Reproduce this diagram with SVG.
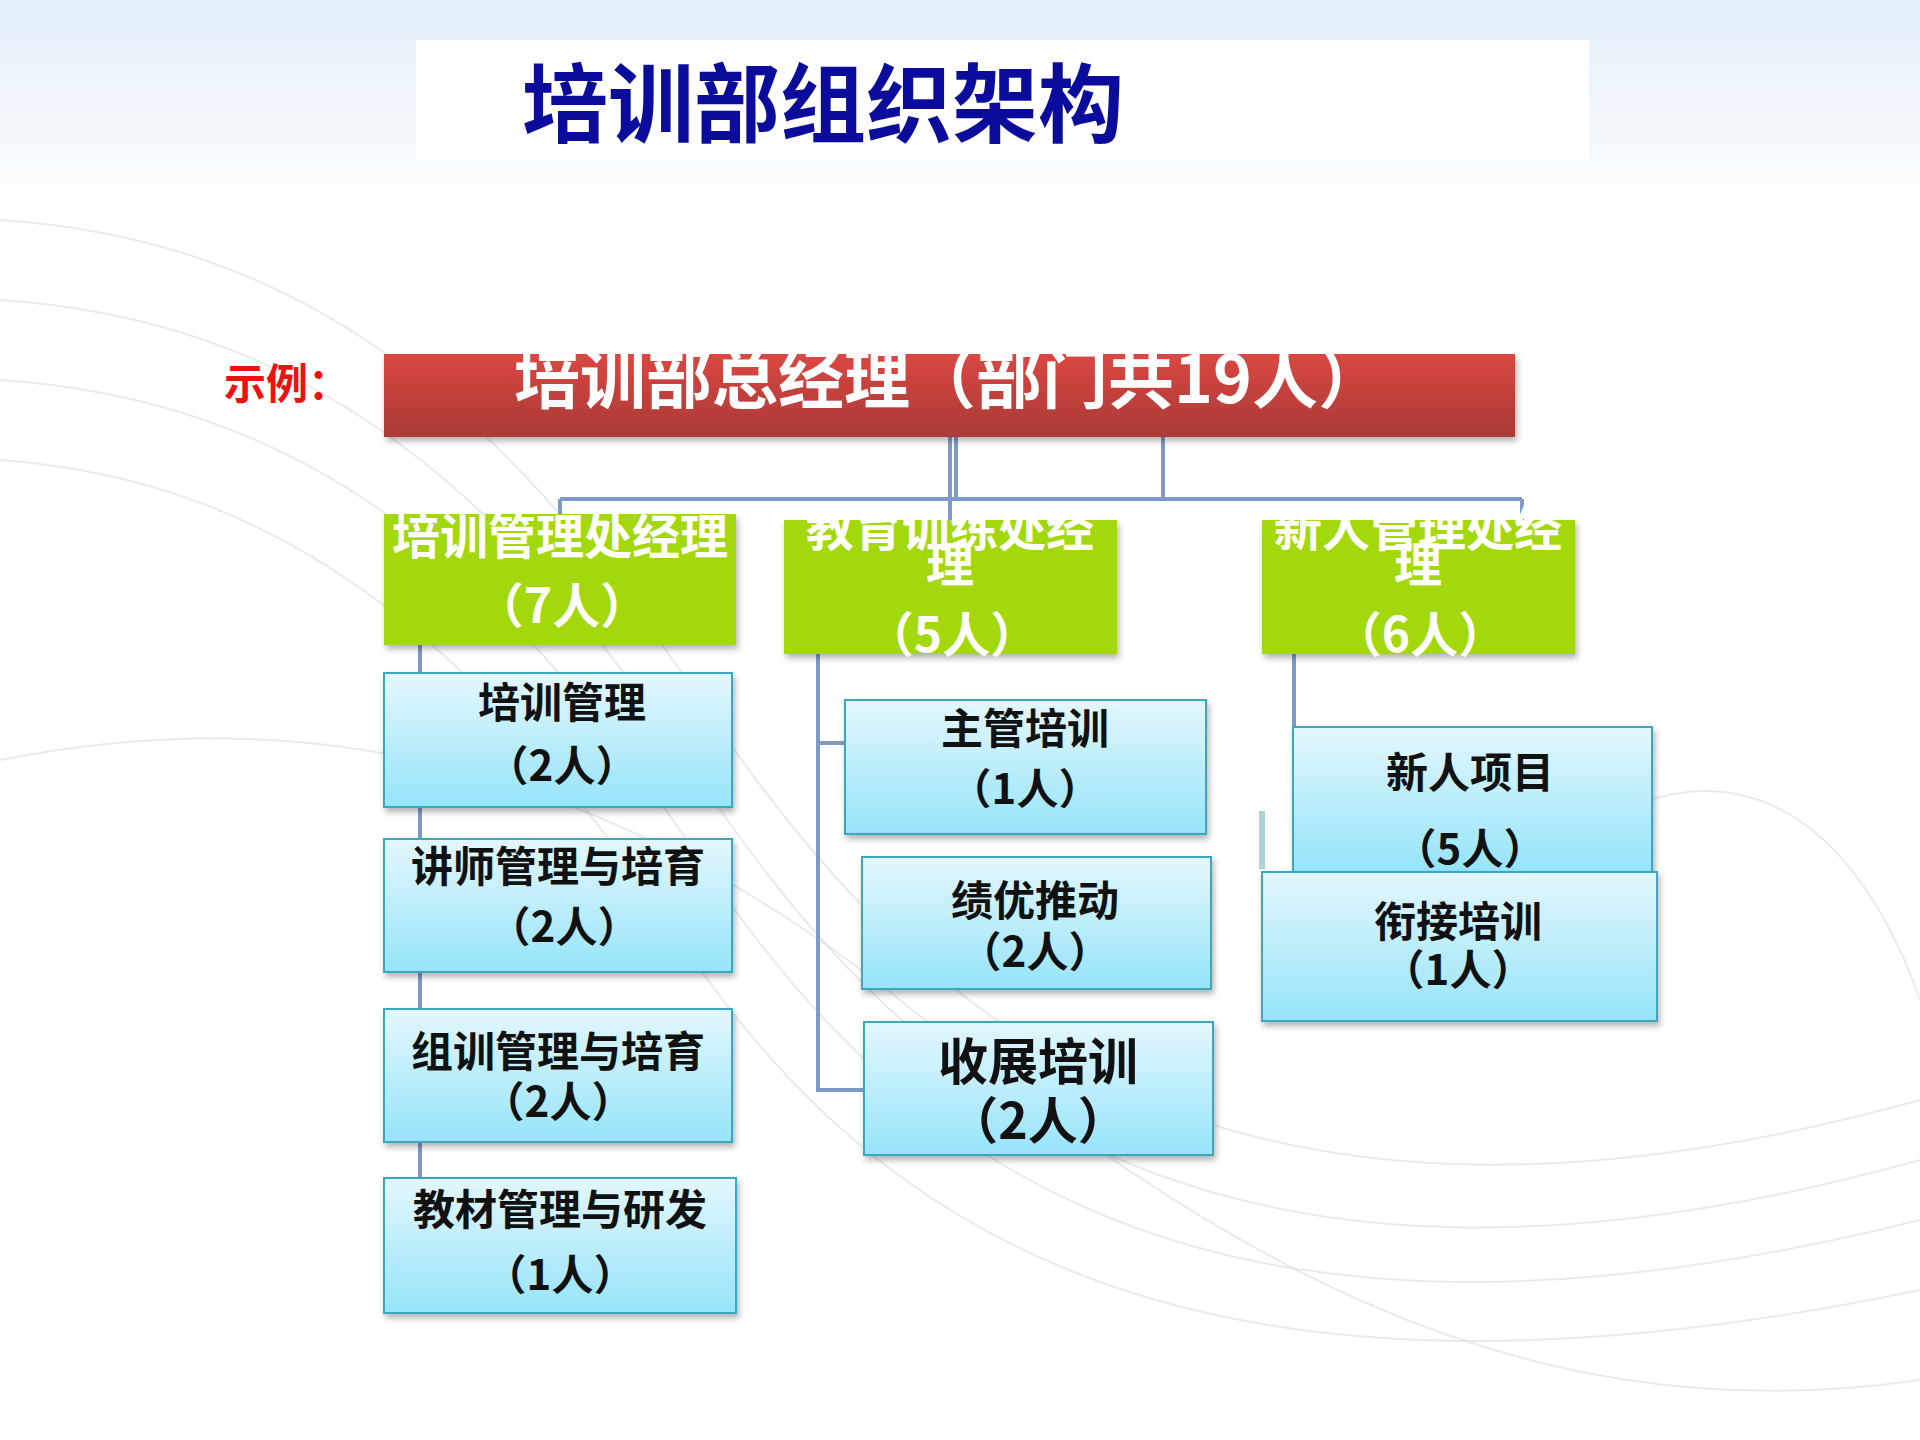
<svg xmlns="http://www.w3.org/2000/svg" width="1920" height="1440" viewBox="0 0 1920 1440">
<defs>
<linearGradient id="bg" x1="0" y1="0" x2="0" y2="1"><stop offset="0" stop-color="#e3eef8"/><stop offset="0.15" stop-color="#ffffff"/></linearGradient>
<linearGradient id="red" x1="0" y1="0" x2="0" y2="1"><stop offset="0" stop-color="#da4742"/><stop offset="1" stop-color="#a93a36"/></linearGradient>
<linearGradient id="blue" x1="0" y1="0" x2="0" y2="1"><stop offset="0" stop-color="#e4f7fd"/><stop offset="1" stop-color="#96e4fa"/></linearGradient>
<filter id="sh" x="-5%" y="-5%" width="115%" height="125%"><feDropShadow dx="2" dy="4" stdDeviation="3" flood-color="#000" flood-opacity="0.3"/></filter>
<clipPath id="cr"><rect x="384" y="354" width="1131" height="83"/></clipPath>
<clipPath id="cg1"><rect x="384" y="514" width="352" height="131"/></clipPath>
<clipPath id="cg2"><rect x="770" y="503" width="360" height="154"/></clipPath>
<clipPath id="cg3"><rect x="1250" y="503" width="340" height="154"/></clipPath>
</defs>
<style>
.t{font-family:"Noto Sans CJK SC","Noto Sans",sans-serif;font-weight:bold;text-anchor:middle;dominant-baseline:central}
.w{fill:#fff;font-size:48px}
.k{fill:#111;font-size:42px}
.big{font-size:50px}
.b{fill:url(#blue);stroke:#3aa8c0;stroke-width:2;filter:url(#sh)}
.g{fill:#a3d80a;filter:url(#sh)}
.ln{stroke:#7f9ac6;stroke-width:4;fill:none}
.wv{stroke:#d8dde3;stroke-width:2;fill:none;opacity:0.6}
</style>
<rect width="1920" height="1440" fill="url(#bg)"/>
<g id="waves">
<path class="wv" d="M0 220 C300 240 500 400 700 700 S1200 1300 1920 1100"/>
<path class="wv" d="M0 300 C300 320 500 480 700 780 S1200 1360 1920 1160"/>
<path class="wv" d="M0 380 C300 400 500 560 700 860 S1200 1400 1920 1220"/>
<path class="wv" d="M0 460 C280 480 480 640 680 940 S1200 1440 1920 1290"/>
<path class="wv" d="M0 760 C300 700 600 760 900 1000 S1500 1440 1920 1380"/>
<path class="wv" d="M1500 900 C1700 700 1850 800 1920 1000"/>
</g>
<g id="title">
<rect x="416" y="40" width="1173" height="119" fill="#fff"/>
<text x="522" y="98" font-family="Noto Sans CJK SC,sans-serif" font-weight="bold" font-size="86" fill="#0c0c9c" dominant-baseline="central">培训部组织架构</text>
</g>
<text x="224" y="380" font-family="Noto Sans CJK SC,sans-serif" font-weight="bold" font-size="42" fill="#ee1111" dominant-baseline="central">示例：</text>
<g id="connectors">
<path class="ln" d="M950 437V499M956 437V499M1163 437V499M560 499H1522M560 499V514M950 499V520M1522 499V520"/>
<path class="ln" d="M420 645V1178"/>
<path class="ln" d="M818 654V1090H864M818 743H845"/>
<path class="ln" d="M1294 654V727"/>
<rect x="1259" y="811" width="6" height="58" fill="#aad4d8"/>
</g>
<g id="n0"><rect x="384" y="354" width="1131" height="83" fill="url(#red)" filter="url(#sh)"/>
<text class="t" x="949" y="374" font-size="66" fill="#fff" clip-path="url(#cr)">培训部总经理（部门共19人）</text></g>
<g id="g1"><rect class="g" x="384" y="514" width="352" height="131"/>
<g clip-path="url(#cg1)"><text class="t w" x="560" y="533">培训管理处经理</text><text class="t w" x="562" y="602">（7人）</text></g></g>
<g id="g2"><rect class="g" x="784" y="520" width="333" height="134"/>
<g clip-path="url(#cg2)"><text class="t w" x="950" y="525">教育训练处经</text><text class="t w" x="950" y="561">理</text><text class="t w" x="952" y="631">（5人）</text></g></g>
<g id="g3"><rect class="g" x="1262" y="520" width="313" height="134"/>
<g clip-path="url(#cg3)"><text class="t w" x="1418" y="525">新人管理处经</text><text class="t w" x="1418" y="561">理</text><text class="t w" x="1420" y="631">（6人）</text></g></g>
<g id="a1"><rect class="b" x="384" y="673" width="348" height="134"/><text class="t k" x="562" y="699">培训管理</text><text class="t k" x="562" y="762">（2人）</text></g>
<g id="a2"><rect class="b" x="384" y="839" width="348" height="133"/><text class="t k" x="558" y="863">讲师管理与培育</text><text class="t k" x="564" y="923">（2人）</text></g>
<g id="a3"><rect class="b" x="384" y="1009" width="348" height="133"/><text class="t k" x="558" y="1048">组训管理与培育</text><text class="t k" x="558" y="1098">（2人）</text></g>
<g id="a4"><rect class="b" x="384" y="1178" width="352" height="135"/><text class="t k" x="560" y="1206">教材管理与研发</text><text class="t k" x="560" y="1271">（1人）</text></g>
<g id="b1"><rect class="b" x="845" y="700" width="361" height="134"/><text class="t k" x="1025" y="725">主管培训</text><text class="t k" x="1025" y="785">（1人）</text></g>
<g id="b2"><rect class="b" x="862" y="857" width="349" height="132"/><text class="t k" x="1035" y="897">绩优推动</text><text class="t k" x="1035" y="948">（2人）</text></g>
<g id="b3"><rect class="b" x="864" y="1022" width="349" height="133"/><text class="t k big" x="1038" y="1058">收展培训</text><text class="t k big" x="1038" y="1117">（2人）</text></g>
<g id="c1"><rect class="b" x="1293" y="727" width="359" height="145"/><text class="t k" x="1470" y="769">新人项目</text><text class="t k" x="1470" y="845">（5人）</text></g>
<g id="c2"><rect class="b" x="1262" y="872" width="395" height="149"/><text class="t k" x="1458" y="918">衔接培训</text><text class="t k" x="1458" y="966">（1人）</text></g>
</svg>
